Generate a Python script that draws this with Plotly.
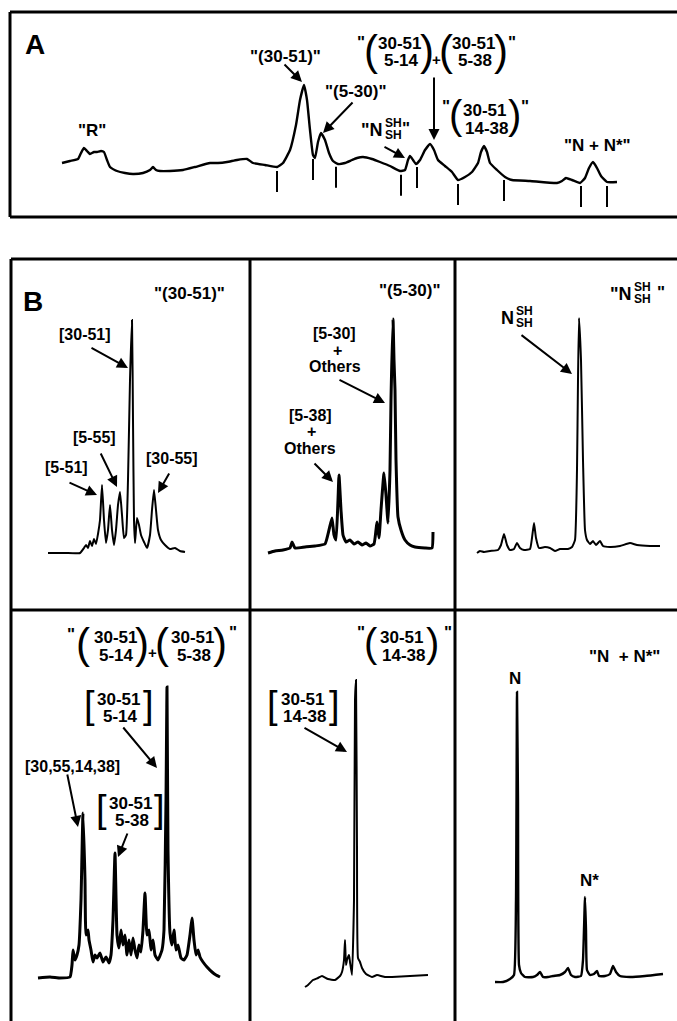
import plotly.graph_objects as go
import numpy as np

W, H = 677, 1021
FONT = "Liberation Sans, Arial, Helvetica, sans-serif"

# ---------------- DATA ----------------
# Panel A: preparative chromatogram (time in min, absorbance in mAU)
a_time = [2.2, 3.0, 3.8, 4.1, 4.4, 4.7, 5.0, 5.4, 5.7, 6.1, 6.4, 6.7, 7.0, 7.7, 8.5, 9.3, 10.3, 11.0, 11.3, 11.6,
          12.0, 13.0, 14.3, 15.5, 17.0, 17.8, 18.7, 19.7, 20.7, 21.3, 22.5, 23.7, 24.3, 25.0, 25.6, 26.0, 26.4, 26.7,
          27.0, 27.3, 27.5, 27.8, 28.1, 28.5, 28.9, 29.3, 29.8, 30.5, 31.2, 31.7, 32.3, 33.2, 34.0, 35.0, 36.0, 36.5,
          36.8, 37.0, 37.3, 37.6, 38.0, 38.5, 39.0, 39.4, 39.8, 40.5, 41.2, 41.8, 42.5, 43.2, 43.8, 44.1, 44.4, 44.7,
          45.0, 45.7, 46.5, 47.2, 49.0, 51.7, 52.2, 52.6, 53.2, 54.0, 54.5, 54.9, 55.3, 55.7, 56.1, 56.7, 57.7]
a_abs = [37, 39, 41, 47, 52, 49, 46, 48, 48, 49, 48, 40, 33, 29, 27, 26, 27, 30, 33, 30,
         29, 29, 30, 33, 37, 37, 38, 40, 41, 37, 35, 33, 37, 50, 75, 100, 115, 100,
         70, 45, 42, 58, 67, 60, 47, 39, 36, 37, 40, 42, 43, 41, 38, 34, 29, 30,
         40, 44, 40, 36, 40, 50, 56, 50, 40, 34, 28, 20, 23, 28, 37, 48, 54, 48,
         37, 30, 23, 20, 19, 17, 19, 22, 20, 17, 22, 32, 38, 32, 24, 18, 18]
a_cuts = [23.7, 27.3, 29.6, 36.1, 37.7, 41.8, 46.4, 54.1, 56.7]

# Panel B, fraction "(30-51)"
b1_time = [0.0, 1.7, 3.2, 3.6, 3.8, 4.0, 4.2, 4.4, 4.6, 4.8, 5.0, 5.2, 5.4, 5.6, 5.8, 6.0, 6.2, 6.4, 6.6, 6.8,
           7.0, 7.2, 7.4, 7.6, 7.8, 8.0, 8.2, 8.4, 8.5, 8.6, 8.7, 8.9, 9.1, 9.3, 9.6, 9.9, 10.2, 10.4, 10.6, 10.8,
           11.0, 11.3, 11.7, 12.2, 12.7, 13.2, 13.7]
b1_abs = [2, 2, 2, 7, 10, 7, 14, 9, 16, 11, 21, 35, 70, 35, 12, 25, 50, 25, 10, 25,
          50, 63, 40, 17, 20, 75, 175, 235, 135, 35, 12, 37, 30, 20, 13, 7, 20, 45, 65, 45,
          25, 15, 10, 6, 7, 4, 3]

# Panel B, fraction "(5-30)"
b2_time = [0.0, 0.7, 1.5, 2.2, 2.4, 2.7, 3.7, 4.7, 5.7, 6.1, 6.4, 6.6, 6.8, 7.0, 7.1, 7.3, 7.5, 7.8, 8.2, 8.6,
           9.0, 9.4, 9.8, 10.2, 10.6, 10.8, 10.9, 11.1, 11.3, 11.6, 11.8, 12.0, 12.2, 12.3, 12.5, 12.6, 12.7, 12.8,
           13.0, 13.3, 13.7, 14.2, 14.7, 15.7, 16.4, 16.5]
b2_abs = [2, 4, 5, 7, 13, 7, 8, 9, 11, 25, 37, 20, 15, 55, 80, 45, 20, 13, 15, 11,
          13, 10, 12, 9, 11, 25, 33, 17, 45, 82, 60, 32, 85, 155, 236, 195, 165, 95,
          38, 25, 15, 10, 8, 7, 7, 23]

# Panel B, fraction "N(SH)(SH)"
b3_time = [0.0, 0.3, 0.7, 1.3, 2.1, 2.4, 2.7, 3.0, 3.3, 3.7, 4.0, 4.3, 4.7, 5.3, 5.5, 5.7, 5.9, 6.2, 6.8, 7.3,
           7.8, 8.3, 9.1, 9.5, 9.8, 10.0, 10.1, 10.2, 10.4, 10.6, 10.8, 11.0, 11.3, 11.6, 11.9, 12.3, 12.6, 13.3,
           14.3, 15.3, 16.0, 17.3, 18.3]
b3_abs = [2, 4, 3, 4, 5, 10, 21, 10, 5, 6, 12, 7, 5, 6, 17, 32, 17, 7, 8, 7,
          4, 6, 6, 8, 15, 85, 175, 237, 195, 95, 25, 15, 11, 14, 10, 14, 9, 8,
          9, 12, 10, 9, 9]

# Panel B, fraction "(30-51/5-14) + (30-51/5-38)"
b4_time = [0.0, 1.2, 2.2, 3.2, 3.4, 3.5, 3.7, 3.9, 4.1, 4.3, 4.5, 4.7, 4.8, 5.0, 5.1, 5.3, 5.5, 5.7, 5.9, 6.2,
           6.5, 6.8, 7.1, 7.3, 7.5, 7.7, 7.9, 8.1, 8.3, 8.5, 8.7, 8.9, 9.1, 9.3, 9.5, 9.7, 9.9, 10.1, 10.3, 10.5,
           10.7, 10.9, 11.1, 11.3, 11.5, 11.7, 12.0, 12.4, 12.6, 12.8, 12.9, 13.0, 13.2, 13.4, 13.6, 13.8, 14.0,
           14.3, 14.6, 14.9, 15.2, 15.4, 15.6, 15.8, 16.0, 16.2, 16.5, 16.9, 17.4, 17.8, 18.2]
b4_abs = [2, 3, 2, 3, 15, 30, 20, 25, 35, 80, 167, 100, 45, 50, 40, 30, 18, 25, 22, 27,
          18, 23, 17, 25, 60, 127, 45, 32, 50, 35, 45, 25, 40, 25, 42, 30, 22, 35, 28, 50,
          87, 45, 50, 30, 40, 25, 20, 30, 50, 180, 293, 130, 47, 35, 50, 30, 35,
          22, 20, 25, 45, 62, 40, 25, 30, 23, 18, 13, 8, 5, 3]

# Panel B, fraction "(30-51/14-38)"
b5_time = [0.0, 0.3, 0.8, 1.3, 1.7, 2.3, 3.0, 3.5, 3.7, 3.9, 4.0, 4.1, 4.2, 4.4, 4.5, 4.7, 4.9, 5.0, 5.1, 5.2,
           5.3, 5.5, 5.7, 6.1, 6.7, 7.2, 8.0, 8.7, 10.5, 12.3]
b5_abs = [-7, -5, 0, 2, 4, 1, 0, 4, 8, 20, 40, 15, 20, 25, 18, 5, 80, 280, 300, 130,
          22, 18, 12, 6, 3, 5, 3, 3, 4, 5]

# Panel B, fraction "N + N*"
b6_time = [0.0, 0.8, 1.5, 1.9, 2.1, 2.2, 2.3, 2.4, 2.6, 3.0, 3.8, 4.2, 4.5, 4.8, 5.3, 5.8, 6.5, 7.0, 7.3, 7.6,
           8.0, 8.6, 8.8, 9.0, 9.1, 9.2, 9.5, 9.9, 10.2, 10.4, 11.0, 11.5, 11.8, 12.1, 12.5, 13.5, 15.0, 16.8]
b6_abs = [-2, -2, 1, 5, 80, 288, 180, 15, 7, 3, 3, 5, 8, 3, 3, 4, 5, 8, 12, 5,
          3, 4, 20, 83, 50, 10, 5, 6, 9, 4, 4, 6, 14, 8, 4, 3, 4, 6]

# ---------------- LAYOUT HELPERS ----------------
def xdom(p0, p1):
    return [p0 / W, p1 / W]

def ydom(pb, pt):
    return [1 - pb / H, 1 - pt / H]

fig = go.Figure()

# subplot definitions: (x pixel span, x range, y pixel span (bottom, top), y range)
panels = [
    ((40, 660), (0, 62), (215, 15), (-15, 185)),        # A
    ((40, 240), (-0.8, 19.2), (600, 270), (-45, 285)),  # B1
    ((255, 450), (-1.3, 18.2), (600, 270), (-45, 285)), # B2
    ((460, 672), (-1.7, 19.5), (600, 270), (-45, 285)), # B3
    ((20, 245), (-1.8, 20.7), (1015, 665), (-35, 315)), # B4
    ((255, 450), (-5.0, 14.5), (1015, 665), (-35, 315)),# B5
    ((460, 672), (-3.5, 17.7), (1015, 665), (-35, 315)),# B6
]
layout_axes = {}
for i, (xp, xr, yp, yr) in enumerate(panels):
    sfx = "" if i == 0 else str(i + 1)
    layout_axes["xaxis" + sfx] = dict(domain=xdom(*xp), range=list(xr), visible=False, fixedrange=True,
                                      anchor="y" + sfx)
    layout_axes["yaxis" + sfx] = dict(domain=ydom(*yp), range=list(yr), visible=False, fixedrange=True,
                                      anchor="x" + sfx)

series = [(a_time, a_abs, 2.4), (b1_time, b1_abs, 2.0), (b2_time, b2_abs, 3.0), (b3_time, b3_abs, 2.0),
          (b4_time, b4_abs, 3.0), (b5_time, b5_abs, 2.0), (b6_time, b6_abs, 2.4)]
for i, (t, v, lw) in enumerate(series):
    sfx = "" if i == 0 else str(i + 1)
    fig.add_trace(go.Scatter(x=t, y=v, mode="lines", line=dict(color="black", width=lw, shape="spline",
                                                                  smoothing=0.4),
                             xaxis="x" + sfx, yaxis="y" + sfx, hoverinfo="skip", showlegend=False))

# fraction cut marks under trace A
cx, cy = [], []
for c in a_cuts:
    yv = float(np.interp(c, a_time, a_abs))
    cx += [c, c, None]
    cy += [yv - 4, yv - 25, None]
fig.add_trace(go.Scatter(x=cx, y=cy, mode="lines", line=dict(color="black", width=2),
                         xaxis="x", yaxis="y", hoverinfo="skip", showlegend=False))

# ---------------- ANNOTATIONS ----------------
ann = []

def txt(s, px, py, size=17, xanchor="center", bold=True):
    ann.append(dict(text=("<b>" + s + "</b>") if bold else s, x=px / W, y=1 - py / H,
                    xref="paper", yref="paper", showarrow=False, xanchor=xanchor, yanchor="middle",
                    borderpad=0, font=dict(family=FONT, size=size, color="black")))

def arrow(hx, hy, tx, ty):
    ann.append(dict(text="", x=hx / W, y=1 - hy / H, xref="paper", yref="paper",
                    ax=tx - hx, ay=ty - hy, showarrow=True, arrowhead=2, arrowsize=1.1,
                    arrowwidth=2, arrowcolor="black"))

def stack(top, bot, cx, ytop, ybot, size=17):
    txt(top, cx, ytop, size)
    txt(bot, cx + 2, ybot, size)

def paren(ch, px, py, size=40):
    txt(ch, px, py, size, bold=False)

def nssh(xr, y, nsize=18, ssize=12, close_x=None, quote=True):
    txt('"N' if quote else "N", xr, y, nsize, xanchor="right")
    txt("SH", xr + 9, y - 7, ssize)
    txt("SH", xr + 9, y + 5, ssize)
    if close_x is not None:
        txt('"', close_x, y - 2, 17)

# Panel A
txt("A", 35, 44, 28)
txt('"R"', 92, 130)
txt('"(30-51)"', 285, 57)
arrow(302, 82, 283, 63)
txt('"(5-30)"', 355, 92)
arrow(323, 133, 354, 101)
nssh(384, 130, close_x=406)
arrow(405, 158, 383, 146)
# "(30-51/5-14)+(30-51/5-38)"
txt('"', 361, 42)
paren("(", 371, 51, 42)
stack("30-51", "5-14", 399, 43, 61)
paren(")", 427, 51, 42)
txt("+", 436, 60, 15)
paren("(", 446, 51, 42)
stack("30-51", "5-38", 473, 43, 61)
paren(")", 501, 51, 42)
txt('"', 512, 42)
arrow(434, 140, 434, 76)
# "(30-51/14-38)"
txt('"', 446, 106)
paren("(", 456, 115, 40)
stack("30-51", "14-38", 484, 111, 128)
paren(")", 514, 115, 40)
txt('"', 525, 106)
txt('"N + N*"', 597, 145)

# Panel B top row
txt("B", 33, 301, 28)
txt('"(30-51)"', 190, 293)
txt("[30-51]", 85, 334, 16)
arrow(128, 368, 90, 347)
txt("[5-55]", 95, 437, 16)
arrow(117, 487, 100, 452)
txt("[5-51]", 66, 467, 16)
arrow(97, 495, 68, 482)
txt("[30-55]", 172, 458, 16)
arrow(158, 493, 170, 472)

txt('"(5-30)"', 410, 290)
txt("[5-30]", 334, 333, 16)
txt("+", 337, 351, 16)
txt("Others", 335, 366, 16)
arrow(385, 403, 338, 379)
txt("[5-38]", 310, 415, 16)
txt("+", 311, 432, 16)
txt("Others", 310, 448, 16)
arrow(333, 482, 313, 462)

nssh(633, 294, close_x=661)
nssh(515, 318, quote=False)
arrow(572, 374, 520, 334)

# Panel B bottom row
txt('"', 71, 634)
paren("(", 83, 643, 42)
stack("30-51", "5-14", 115, 637, 655)
paren(")", 142, 643, 42)
txt("+", 152, 652, 15)
paren("(", 162, 643, 42)
stack("30-51", "5-38", 192, 637, 655)
paren(")", 220, 643, 42)
txt('"', 233, 632)

paren("[", 89, 705, 38)
stack("30-51", "5-14", 118, 699, 716)
paren("]", 148, 705, 38)
arrow(157, 768, 122, 726)
txt("[30,55,14,38]", 72, 766, 16)
arrow(78, 827, 67, 773)
paren("[", 101, 809, 38)
stack("30-51", "5-38", 130, 803, 820)
paren("]", 159, 809, 38)
arrow(118, 857, 128, 832)

txt('"', 361, 632)
paren("(", 371, 643, 40)
stack("30-51", "14-38", 401, 637, 655)
paren(")", 432, 643, 40)
txt('"', 448, 632)
paren("[", 272, 705, 38)
stack("30-51", "14-38", 302, 699, 716)
paren("]", 334, 705, 38)
arrow(347, 752, 303, 727)

txt('"N  + N*"', 624, 656)
txt("N", 515, 678)
txt("N*", 589, 880)

# ---------------- FRAMES ----------------
shapes = []
def line(x0, y0, x1, y1, w=3):
    shapes.append(dict(type="line", xref="paper", yref="paper", x0=x0 / W, y0=1 - y0 / H,
                       x1=x1 / W, y1=1 - y1 / H, line=dict(color="black", width=w)))

# Panel A box (right edge beyond the page)
line(10, 12, 690, 12)
line(10, 217, 690, 217)
line(10, 12, 10, 217)
# Panel B grid
line(11, 259, 690, 259)
line(11, 259, 11, 1030)
line(250, 259, 250, 1030)
line(455, 259, 455, 1030)
line(11, 610, 690, 610)

fig.update_layout(
    width=W, height=H, autosize=False,
    margin=dict(l=0, r=0, t=0, b=0, pad=0),
    paper_bgcolor="white", plot_bgcolor="rgba(0,0,0,0)",
    showlegend=False, annotations=ann, shapes=shapes,
    **layout_axes,
)

fig.write_html("out.html", config={"displayModeBar": False})
